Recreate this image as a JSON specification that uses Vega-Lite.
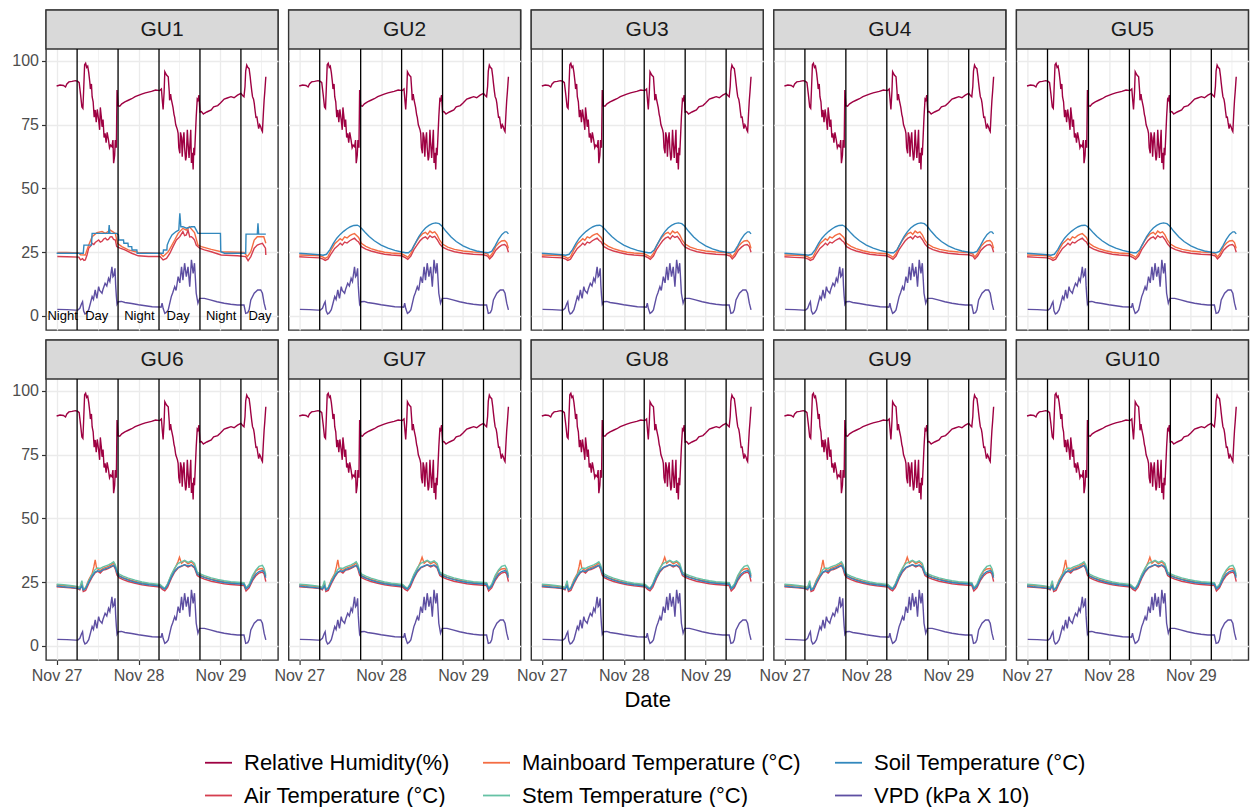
{
"$schema": "https://vega.github.io/schema/vega-lite/v6.json",
"padding": {"left": 11, "top": 8, "right": 0, "bottom": 0},
"spacing": 6,
"config": {
  "font": "Liberation Sans",
  "view": {"stroke": "#333333", "strokeWidth": 1.4},
  "axis": {"labelFont": "Liberation Sans", "titleFont": "Liberation Sans"},
  "text": {"font": "Liberation Sans"},
  "legend": {"orient": "none", "legendX": 158, "legendY": 738, "columns": 3, "columnPadding": 29, "rowPadding": 7, "symbolType": "stroke", "symbolSize": 729, "symbolStrokeWidth": 1.8, "labelFontSize": 22, "labelFont": "Liberation Sans", "labelColor": "#000000", "labelOffset": 11, "labelLimit": 400}
},
"resolve": {"scale": {"color": "shared"}, "legend": {"color": "shared"}},
"datasets": {
"names": [{"s":"R","name":"Relative Humidity(%)"},{"s":"A","name":"Air Temperature (°C)"},{"s":"M","name":"Mainboard Temperature (°C)"},{"s":"S","name":"Stem Temperature (°C)"},{"s":"O","name":"Soil Temperature (°C)"},{"s":"V","name":"VPD (kPa X 10)"}],
"vl": [{"t":"2023-11-27T06:00"},{"t":"2023-11-27T18:00"},{"t":"2023-11-28T06:00"},{"t":"2023-11-28T18:00"},{"t":"2023-11-29T06:00"}],
"dn": [{"t":"2023-11-27T01:45","lab":"Night"},{"t":"2023-11-27T11:45","lab":"Day"},{"t":"2023-11-28T00:15","lab":"Night"},{"t":"2023-11-28T11:36","lab":"Day"},{"t":"2023-11-29T00:12","lab":"Night"},{"t":"2023-11-29T11:36","lab":"Day"}],
"wx": [
{"t":"2023-11-27T00:00","s":"R","y":90.2},{"t":"2023-11-27T01:00","s":"R","y":90.6},{"t":"2023-11-27T02:00","s":"R","y":90.4},{"t":"2023-11-27T02:36","s":"R","y":89.8},{"t":"2023-11-27T03:00","s":"R","y":91.0},{"t":"2023-11-27T03:36","s":"R","y":91.8},{"t":"2023-11-27T04:30","s":"R","y":92.0},{"t":"2023-11-27T05:30","s":"R","y":92.3},{"t":"2023-11-27T06:12","s":"R","y":92.0},{"t":"2023-11-27T06:36","s":"R","y":91.5},{"t":"2023-11-27T07:00","s":"R","y":87},{"t":"2023-11-27T07:24","s":"R","y":82},{"t":"2023-11-27T07:42","s":"R","y":81.4},{"t":"2023-11-27T07:54","s":"R","y":88},{"t":"2023-11-27T08:12","s":"R","y":98.5},{"t":"2023-11-27T08:30","s":"R","y":99.1},{"t":"2023-11-27T08:48","s":"R","y":97.5},{"t":"2023-11-27T09:06","s":"R","y":98.0},{"t":"2023-11-27T09:24","s":"R","y":95.5},{"t":"2023-11-27T09:42","s":"R","y":92},{"t":"2023-11-27T09:54","s":"R","y":89},{"t":"2023-11-27T10:12","s":"R","y":91},{"t":"2023-11-27T10:24","s":"R","y":86},{"t":"2023-11-27T10:42","s":"R","y":84},{"t":"2023-11-27T11:00","s":"R","y":78},{"t":"2023-11-27T11:18","s":"R","y":80.8},{"t":"2023-11-27T11:36","s":"R","y":76},{"t":"2023-11-27T11:54","s":"R","y":81},{"t":"2023-11-27T12:18","s":"R","y":76.9},{"t":"2023-11-27T12:36","s":"R","y":73},{"t":"2023-11-27T12:48","s":"R","y":81.8},{"t":"2023-11-27T13:06","s":"R","y":78},{"t":"2023-11-27T13:18","s":"R","y":74.2},{"t":"2023-11-27T13:36","s":"R","y":77},{"t":"2023-11-27T13:54","s":"R","y":70},{"t":"2023-11-27T14:12","s":"R","y":71.6},{"t":"2023-11-27T14:30","s":"R","y":68},{"t":"2023-11-27T14:48","s":"R","y":72},{"t":"2023-11-27T15:12","s":"R","y":69},{"t":"2023-11-27T15:30","s":"R","y":66},{"t":"2023-11-27T15:48","s":"R","y":67},{"t":"2023-11-27T16:12","s":"R","y":66.4},{"t":"2023-11-27T16:30","s":"R","y":69},{"t":"2023-11-27T16:42","s":"R","y":59.9},{"t":"2023-11-27T17:00","s":"R","y":63},{"t":"2023-11-27T17:12","s":"R","y":69},{"t":"2023-11-27T17:30","s":"R","y":66},{"t":"2023-11-27T17:42","s":"R","y":88.6},{"t":"2023-11-27T18:00","s":"R","y":82.5},{"t":"2023-11-27T18:30","s":"R","y":82.3},{"t":"2023-11-27T19:06","s":"R","y":83.2},{"t":"2023-11-27T20:00","s":"R","y":84},{"t":"2023-11-27T21:00","s":"R","y":84.6},{"t":"2023-11-27T22:00","s":"R","y":85.2},{"t":"2023-11-27T23:00","s":"R","y":86},{"t":"2023-11-28T00:54","s":"R","y":87},{"t":"2023-11-28T02:00","s":"R","y":87.5},{"t":"2023-11-28T03:48","s":"R","y":88.1},{"t":"2023-11-28T05:00","s":"R","y":88.6},{"t":"2023-11-28T06:12","s":"R","y":88.4},{"t":"2023-11-28T06:42","s":"R","y":89},{"t":"2023-11-28T07:00","s":"R","y":84},{"t":"2023-11-28T07:12","s":"R","y":81},{"t":"2023-11-28T07:30","s":"R","y":88},{"t":"2023-11-28T07:42","s":"R","y":95.8},{"t":"2023-11-28T08:12","s":"R","y":94.5},{"t":"2023-11-28T08:42","s":"R","y":93.8},{"t":"2023-11-28T09:00","s":"R","y":88},{"t":"2023-11-28T09:06","s":"R","y":84.6},{"t":"2023-11-28T09:24","s":"R","y":87},{"t":"2023-11-28T09:36","s":"R","y":85},{"t":"2023-11-28T10:06","s":"R","y":81.8},{"t":"2023-11-28T10:24","s":"R","y":79},{"t":"2023-11-28T10:36","s":"R","y":77.9},{"t":"2023-11-28T10:54","s":"R","y":75},{"t":"2023-11-28T11:06","s":"R","y":74.2},{"t":"2023-11-28T11:24","s":"R","y":73},{"t":"2023-11-28T11:36","s":"R","y":71.6},{"t":"2023-11-28T11:48","s":"R","y":66},{"t":"2023-11-28T12:06","s":"R","y":63.8},{"t":"2023-11-28T12:18","s":"R","y":72},{"t":"2023-11-28T12:36","s":"R","y":70},{"t":"2023-11-28T12:48","s":"R","y":62.5},{"t":"2023-11-28T13:00","s":"R","y":68},{"t":"2023-11-28T13:18","s":"R","y":72},{"t":"2023-11-28T13:30","s":"R","y":66},{"t":"2023-11-28T13:48","s":"R","y":61},{"t":"2023-11-28T14:00","s":"R","y":62.5},{"t":"2023-11-28T14:18","s":"R","y":73},{"t":"2023-11-28T14:30","s":"R","y":68},{"t":"2023-11-28T14:48","s":"R","y":62},{"t":"2023-11-28T15:00","s":"R","y":66},{"t":"2023-11-28T15:18","s":"R","y":73},{"t":"2023-11-28T15:30","s":"R","y":60},{"t":"2023-11-28T15:48","s":"R","y":64},{"t":"2023-11-28T16:00","s":"R","y":57.5},{"t":"2023-11-28T16:12","s":"R","y":66},{"t":"2023-11-28T16:24","s":"R","y":63},{"t":"2023-11-28T16:42","s":"R","y":72},{"t":"2023-11-28T16:54","s":"R","y":78},{"t":"2023-11-28T17:12","s":"R","y":85},{"t":"2023-11-28T17:24","s":"R","y":84.6},{"t":"2023-11-28T17:42","s":"R","y":86.6},{"t":"2023-11-28T18:00","s":"R","y":80},{"t":"2023-11-28T18:24","s":"R","y":80.2},{"t":"2023-11-28T19:00","s":"R","y":79.2},{"t":"2023-11-28T19:18","s":"R","y":79.5},{"t":"2023-11-28T20:00","s":"R","y":80},{"t":"2023-11-28T21:18","s":"R","y":80.8},{"t":"2023-11-28T22:00","s":"R","y":82},{"t":"2023-11-28T23:12","s":"R","y":82.5},{"t":"2023-11-29T00:00","s":"R","y":83.5},{"t":"2023-11-29T01:06","s":"R","y":85.1},{"t":"2023-11-29T02:00","s":"R","y":85.5},{"t":"2023-11-29T03:06","s":"R","y":86},{"t":"2023-11-29T04:00","s":"R","y":85.6},{"t":"2023-11-29T05:00","s":"R","y":86.6},{"t":"2023-11-29T06:00","s":"R","y":87.3},{"t":"2023-11-29T06:30","s":"R","y":86.5},{"t":"2023-11-29T06:54","s":"R","y":86},{"t":"2023-11-29T07:12","s":"R","y":90},{"t":"2023-11-29T07:24","s":"R","y":96},{"t":"2023-11-29T07:42","s":"R","y":98.4},{"t":"2023-11-29T08:00","s":"R","y":97.5},{"t":"2023-11-29T08:24","s":"R","y":97},{"t":"2023-11-29T08:42","s":"R","y":94},{"t":"2023-11-29T08:54","s":"R","y":91.4},{"t":"2023-11-29T09:12","s":"R","y":88},{"t":"2023-11-29T09:24","s":"R","y":86},{"t":"2023-11-29T09:42","s":"R","y":85},{"t":"2023-11-29T09:54","s":"R","y":83.5},{"t":"2023-11-29T10:12","s":"R","y":80},{"t":"2023-11-29T10:24","s":"R","y":77.9},{"t":"2023-11-29T10:42","s":"R","y":78},{"t":"2023-11-29T10:54","s":"R","y":76},{"t":"2023-11-29T11:12","s":"R","y":73.5},{"t":"2023-11-29T11:30","s":"R","y":75},{"t":"2023-11-29T11:48","s":"R","y":74.2},{"t":"2023-11-29T12:06","s":"R","y":72.8},{"t":"2023-11-29T12:18","s":"R","y":72.3},{"t":"2023-11-29T12:36","s":"R","y":80},{"t":"2023-11-29T12:48","s":"R","y":84.6},{"t":"2023-11-29T13:00","s":"R","y":88},{"t":"2023-11-29T13:18","s":"R","y":93.8},
{"t":"2023-11-27T00:12","s":"V","y":2.6},{"t":"2023-11-27T03:00","s":"V","y":2.5},{"t":"2023-11-27T05:30","s":"V","y":2.3},{"t":"2023-11-27T06:12","s":"V","y":2.3},{"t":"2023-11-27T06:48","s":"V","y":3.0},{"t":"2023-11-27T07:18","s":"V","y":4.8},{"t":"2023-11-27T07:36","s":"V","y":5.6},{"t":"2023-11-27T07:54","s":"V","y":2.0},{"t":"2023-11-27T08:18","s":"V","y":0.8},{"t":"2023-11-27T08:48","s":"V","y":1.2},{"t":"2023-11-27T09:24","s":"V","y":2.5},{"t":"2023-11-27T09:54","s":"V","y":5.0},{"t":"2023-11-27T10:24","s":"V","y":7.6},{"t":"2023-11-27T10:48","s":"V","y":6.5},{"t":"2023-11-27T11:18","s":"V","y":10.2},{"t":"2023-11-27T11:36","s":"V","y":8.0},{"t":"2023-11-27T11:48","s":"V","y":6.9},{"t":"2023-11-27T12:18","s":"V","y":11.5},{"t":"2023-11-27T12:36","s":"V","y":10.0},{"t":"2023-11-27T13:18","s":"V","y":8.9},{"t":"2023-11-27T13:36","s":"V","y":10.5},{"t":"2023-11-27T14:12","s":"V","y":12.8},{"t":"2023-11-27T14:42","s":"V","y":11.8},{"t":"2023-11-27T15:12","s":"V","y":14.8},{"t":"2023-11-27T15:36","s":"V","y":13.5},{"t":"2023-11-27T16:12","s":"V","y":19.3},{"t":"2023-11-27T16:30","s":"V","y":15.4},{"t":"2023-11-27T16:48","s":"V","y":16.0},{"t":"2023-11-27T17:06","s":"V","y":18.7},{"t":"2023-11-27T17:18","s":"V","y":12.0},{"t":"2023-11-27T17:30","s":"V","y":7.8},{"t":"2023-11-27T17:42","s":"V","y":4.6},{"t":"2023-11-27T18:06","s":"V","y":5.6},{"t":"2023-11-27T19:00","s":"V","y":5.7},{"t":"2023-11-27T20:00","s":"V","y":5.3},{"t":"2023-11-27T22:00","s":"V","y":4.9},{"t":"2023-11-28T00:00","s":"V","y":4.4},{"t":"2023-11-28T02:00","s":"V","y":4.0},{"t":"2023-11-28T04:00","s":"V","y":3.6},{"t":"2023-11-28T06:12","s":"V","y":3.5},{"t":"2023-11-28T06:36","s":"V","y":3.4},{"t":"2023-11-28T06:54","s":"V","y":5.0},{"t":"2023-11-28T07:12","s":"V","y":3.0},{"t":"2023-11-28T07:42","s":"V","y":1.0},{"t":"2023-11-28T08:12","s":"V","y":1.5},{"t":"2023-11-28T08:42","s":"V","y":2.4},{"t":"2023-11-28T09:36","s":"V","y":7.6},{"t":"2023-11-28T10:00","s":"V","y":9.0},{"t":"2023-11-28T10:36","s":"V","y":11.5},{"t":"2023-11-28T11:00","s":"V","y":10.0},{"t":"2023-11-28T11:36","s":"V","y":15.4},{"t":"2023-11-28T12:06","s":"V","y":13.0},{"t":"2023-11-28T12:36","s":"V","y":19.3},{"t":"2023-11-28T13:00","s":"V","y":14.0},{"t":"2023-11-28T13:30","s":"V","y":20.7},{"t":"2023-11-28T14:00","s":"V","y":15.4},{"t":"2023-11-28T14:30","s":"V","y":19.3},{"t":"2023-11-28T15:00","s":"V","y":11.5},{"t":"2023-11-28T15:30","s":"V","y":22.0},{"t":"2023-11-28T16:00","s":"V","y":16.7},{"t":"2023-11-28T16:24","s":"V","y":20.7},{"t":"2023-11-28T16:54","s":"V","y":8.9},{"t":"2023-11-28T17:24","s":"V","y":5.0},{"t":"2023-11-28T17:54","s":"V","y":6.9},{"t":"2023-11-28T19:18","s":"V","y":6.9},{"t":"2023-11-28T21:00","s":"V","y":6.3},{"t":"2023-11-28T23:00","s":"V","y":5.6},{"t":"2023-11-29T01:06","s":"V","y":5.0},{"t":"2023-11-29T03:00","s":"V","y":4.6},{"t":"2023-11-29T05:00","s":"V","y":4.3},{"t":"2023-11-29T06:54","s":"V","y":4.3},{"t":"2023-11-29T07:24","s":"V","y":1.0},{"t":"2023-11-29T08:00","s":"V","y":1.3},{"t":"2023-11-29T08:24","s":"V","y":2.4},{"t":"2023-11-29T08:54","s":"V","y":6.3},{"t":"2023-11-29T09:54","s":"V","y":8.9},{"t":"2023-11-29T10:54","s":"V","y":10.2},{"t":"2023-11-29T11:48","s":"V","y":10.2},{"t":"2023-11-29T12:18","s":"V","y":8.9},{"t":"2023-11-29T12:48","s":"V","y":5.0},{"t":"2023-11-29T13:18","s":"V","y":2.4}
],
"tA": [
{"t":"2023-11-27T00:12","s":"A","y":23.3},{"t":"2023-11-27T03:00","s":"A","y":23.2},{"t":"2023-11-27T06:30","s":"A","y":23.1},{"t":"2023-11-27T07:00","s":"A","y":22.0},{"t":"2023-11-27T07:36","s":"A","y":22.5},{"t":"2023-11-27T08:00","s":"A","y":21.8},{"t":"2023-11-27T08:24","s":"A","y":22.0},{"t":"2023-11-27T08:54","s":"A","y":23.9},{"t":"2023-11-27T09:24","s":"A","y":26.6},{"t":"2023-11-27T10:00","s":"A","y":27.5},{"t":"2023-11-27T10:24","s":"A","y":28.5},{"t":"2023-11-27T10:54","s":"A","y":28.0},{"t":"2023-11-27T11:18","s":"A","y":28.8},{"t":"2023-11-27T11:48","s":"A","y":29.3},{"t":"2023-11-27T12:18","s":"A","y":29.8},{"t":"2023-11-27T12:48","s":"A","y":29.0},{"t":"2023-11-27T13:18","s":"A","y":29.3},{"t":"2023-11-27T13:48","s":"A","y":30.2},{"t":"2023-11-27T14:18","s":"A","y":30.5},{"t":"2023-11-27T14:48","s":"A","y":29.8},{"t":"2023-11-27T15:12","s":"A","y":30.0},{"t":"2023-11-27T15:42","s":"A","y":31.0},{"t":"2023-11-27T16:12","s":"A","y":31.1},{"t":"2023-11-27T16:42","s":"A","y":30.0},{"t":"2023-11-27T17:12","s":"A","y":29.8},{"t":"2023-11-27T17:36","s":"A","y":27.2},{"t":"2023-11-27T18:36","s":"A","y":26.6},{"t":"2023-11-27T20:00","s":"A","y":25.9},{"t":"2023-11-27T22:00","s":"A","y":24.6},{"t":"2023-11-27T23:54","s":"A","y":23.6},{"t":"2023-11-28T02:54","s":"A","y":23.3},{"t":"2023-11-28T06:18","s":"A","y":23.3},{"t":"2023-11-28T07:12","s":"A","y":22.0},{"t":"2023-11-28T08:12","s":"A","y":22.6},{"t":"2023-11-28T09:12","s":"A","y":24.6},{"t":"2023-11-28T10:06","s":"A","y":27.2},{"t":"2023-11-28T11:06","s":"A","y":29.8},{"t":"2023-11-28T12:06","s":"A","y":31.1},{"t":"2023-11-28T13:00","s":"A","y":33.1},{"t":"2023-11-28T13:30","s":"A","y":31.5},{"t":"2023-11-28T14:00","s":"A","y":31.8},{"t":"2023-11-28T14:30","s":"A","y":33.7},{"t":"2023-11-28T15:00","s":"A","y":31.0},{"t":"2023-11-28T15:30","s":"A","y":31.1},{"t":"2023-11-28T16:00","s":"A","y":30.5},{"t":"2023-11-28T16:24","s":"A","y":29.8},{"t":"2023-11-28T16:54","s":"A","y":27.8},{"t":"2023-11-28T17:54","s":"A","y":26.6},{"t":"2023-11-28T19:18","s":"A","y":25.9},{"t":"2023-11-28T21:18","s":"A","y":25.2},{"t":"2023-11-29T00:12","s":"A","y":23.9},{"t":"2023-11-29T05:00","s":"A","y":23.6},{"t":"2023-11-29T07:24","s":"A","y":23.3},{"t":"2023-11-29T08:06","s":"A","y":21.7},{"t":"2023-11-29T08:54","s":"A","y":23.3},{"t":"2023-11-29T09:54","s":"A","y":26.6},{"t":"2023-11-29T10:48","s":"A","y":27.8},{"t":"2023-11-29T11:30","s":"A","y":28.2},{"t":"2023-11-29T12:18","s":"A","y":28.5},{"t":"2023-11-29T13:12","s":"A","y":26.6},{"t":"2023-11-29T13:18","s":"A","y":23.9},
{"t":"2023-11-27T00:12","s":"M","y":24.9},{"t":"2023-11-27T03:00","s":"M","y":24.9},{"t":"2023-11-27T06:30","s":"M","y":24.7},{"t":"2023-11-27T07:00","s":"M","y":24.0},{"t":"2023-11-27T08:24","s":"M","y":23.9},{"t":"2023-11-27T09:24","s":"M","y":27.8},{"t":"2023-11-27T10:24","s":"M","y":31.1},{"t":"2023-11-27T11:48","s":"M","y":32.7},{"t":"2023-11-27T13:18","s":"M","y":33.1},{"t":"2023-11-27T14:18","s":"M","y":32.4},{"t":"2023-11-27T15:42","s":"M","y":33.7},{"t":"2023-11-27T16:30","s":"M","y":33.0},{"t":"2023-11-27T17:12","s":"M","y":32.4},{"t":"2023-11-27T17:48","s":"M","y":28.5},{"t":"2023-11-27T19:06","s":"M","y":27.2},{"t":"2023-11-27T21:00","s":"M","y":25.9},{"t":"2023-11-27T23:54","s":"M","y":24.9},{"t":"2023-11-28T06:18","s":"M","y":24.6},{"t":"2023-11-28T07:12","s":"M","y":23.3},{"t":"2023-11-28T08:42","s":"M","y":25.2},{"t":"2023-11-28T10:36","s":"M","y":29.8},{"t":"2023-11-28T11:36","s":"M","y":32.4},{"t":"2023-11-28T13:00","s":"M","y":34.4},{"t":"2023-11-28T14:00","s":"M","y":33.7},{"t":"2023-11-28T14:54","s":"M","y":35.0},{"t":"2023-11-28T16:24","s":"M","y":32.7},{"t":"2023-11-28T17:24","s":"M","y":27.8},{"t":"2023-11-28T18:24","s":"M","y":27.2},{"t":"2023-11-28T21:18","s":"M","y":26.1},{"t":"2023-11-29T00:12","s":"M","y":25.2},{"t":"2023-11-29T06:54","s":"M","y":24.9},{"t":"2023-11-29T07:54","s":"M","y":23.3},{"t":"2023-11-29T08:54","s":"M","y":25.2},{"t":"2023-11-29T09:54","s":"M","y":29.8},{"t":"2023-11-29T10:48","s":"M","y":31.1},{"t":"2023-11-29T12:42","s":"M","y":31.1},{"t":"2023-11-29T13:18","s":"M","y":28.5},
{"t":"2023-11-27T00:00","s":"O","y":24.6},{"t":"2023-11-27T07:48","s":"O","y":24.6},{"t":"2023-11-27T08:00","s":"O","y":27.8},{"t":"2023-11-27T10:12","s":"O","y":27.8},{"t":"2023-11-27T10:24","s":"O","y":32.4},{"t":"2023-11-27T15:12","s":"O","y":32.4},{"t":"2023-11-27T15:24","s":"O","y":35.7},{"t":"2023-11-27T15:36","s":"O","y":32.4},{"t":"2023-11-27T17:36","s":"O","y":32.4},{"t":"2023-11-27T18:06","s":"O","y":31.8},{"t":"2023-11-27T18:12","s":"O","y":29.8},{"t":"2023-11-27T19:36","s":"O","y":29.8},{"t":"2023-11-27T19:42","s":"O","y":28.5},{"t":"2023-11-27T20:54","s":"O","y":28.5},{"t":"2023-11-27T21:00","s":"O","y":27.2},{"t":"2023-11-27T22:00","s":"O","y":27.2},{"t":"2023-11-27T22:06","s":"O","y":25.9},{"t":"2023-11-27T23:30","s":"O","y":25.9},{"t":"2023-11-27T23:36","s":"O","y":24.6},{"t":"2023-11-28T07:12","s":"O","y":24.6},{"t":"2023-11-28T07:18","s":"O","y":25.9},{"t":"2023-11-28T08:18","s":"O","y":25.9},{"t":"2023-11-28T08:24","s":"O","y":27.8},{"t":"2023-11-28T09:00","s":"O","y":29.8},{"t":"2023-11-28T09:48","s":"O","y":31.8},{"t":"2023-11-28T11:00","s":"O","y":33.1},{"t":"2023-11-28T11:48","s":"O","y":33.7},{"t":"2023-11-28T12:06","s":"O","y":40.3},{"t":"2023-11-28T12:24","s":"O","y":35.0},{"t":"2023-11-28T13:00","s":"O","y":35.0},{"t":"2023-11-28T14:00","s":"O","y":34.4},{"t":"2023-11-28T15:30","s":"O","y":35.0},{"t":"2023-11-28T16:24","s":"O","y":35.0},{"t":"2023-11-28T17:00","s":"O","y":33.5},{"t":"2023-11-28T17:24","s":"O","y":32.4},{"t":"2023-11-29T00:00","s":"O","y":32.4},{"t":"2023-11-29T00:06","s":"O","y":25.2},{"t":"2023-11-29T01:12","s":"O","y":24.6},{"t":"2023-11-29T07:24","s":"O","y":24.6},{"t":"2023-11-29T07:30","s":"O","y":32.1},{"t":"2023-11-29T10:48","s":"O","y":32.1},{"t":"2023-11-29T11:00","s":"O","y":36.3},{"t":"2023-11-29T11:12","s":"O","y":32.1},{"t":"2023-11-29T13:18","s":"O","y":32.1}
],
"tB": [
{"t":"2023-11-27T00:00","s":"A","y":23.2},{"t":"2023-11-27T03:00","s":"A","y":23.0},{"t":"2023-11-27T06:00","s":"A","y":22.8},{"t":"2023-11-27T07:00","s":"A","y":22.3},{"t":"2023-11-27T07:36","s":"A","y":21.8},{"t":"2023-11-27T08:24","s":"A","y":22.3},{"t":"2023-11-27T09:24","s":"A","y":24.5},{"t":"2023-11-27T10:24","s":"A","y":26.5},{"t":"2023-11-27T11:18","s":"A","y":27.5},{"t":"2023-11-27T12:00","s":"A","y":28.5},{"t":"2023-11-27T12:36","s":"A","y":27.8},{"t":"2023-11-27T13:18","s":"A","y":29.0},{"t":"2023-11-27T14:00","s":"A","y":28.6},{"t":"2023-11-27T14:48","s":"A","y":29.5},{"t":"2023-11-27T15:30","s":"A","y":30.0},{"t":"2023-11-27T16:12","s":"A","y":30.5},{"t":"2023-11-27T16:48","s":"A","y":29.6},{"t":"2023-11-27T17:24","s":"A","y":29.0},{"t":"2023-11-27T18:12","s":"A","y":27.2},{"t":"2023-11-27T19:30","s":"A","y":26.2},{"t":"2023-11-27T21:00","s":"A","y":25.5},{"t":"2023-11-27T23:00","s":"A","y":24.8},{"t":"2023-11-28T01:00","s":"A","y":24.2},{"t":"2023-11-28T03:00","s":"A","y":23.9},{"t":"2023-11-28T06:00","s":"A","y":23.6},{"t":"2023-11-28T07:12","s":"A","y":22.8},{"t":"2023-11-28T07:48","s":"A","y":22.2},{"t":"2023-11-28T08:42","s":"A","y":23.5},{"t":"2023-11-28T09:36","s":"A","y":26.0},{"t":"2023-11-28T10:36","s":"A","y":28.0},{"t":"2023-11-28T11:24","s":"A","y":29.5},{"t":"2023-11-28T12:12","s":"A","y":30.5},{"t":"2023-11-28T13:00","s":"A","y":31.0},{"t":"2023-11-28T13:36","s":"A","y":30.2},{"t":"2023-11-28T14:18","s":"A","y":31.5},{"t":"2023-11-28T15:00","s":"A","y":30.8},{"t":"2023-11-28T15:42","s":"A","y":31.2},{"t":"2023-11-28T16:24","s":"A","y":30.0},{"t":"2023-11-28T17:12","s":"A","y":28.2},{"t":"2023-11-28T18:00","s":"A","y":27.0},{"t":"2023-11-28T19:30","s":"A","y":26.0},{"t":"2023-11-28T21:30","s":"A","y":25.2},{"t":"2023-11-29T00:00","s":"A","y":24.6},{"t":"2023-11-29T03:00","s":"A","y":24.2},{"t":"2023-11-29T06:00","s":"A","y":24.0},{"t":"2023-11-29T07:12","s":"A","y":23.5},{"t":"2023-11-29T07:48","s":"A","y":22.4},{"t":"2023-11-29T08:36","s":"A","y":23.5},{"t":"2023-11-29T09:36","s":"A","y":25.8},{"t":"2023-11-29T10:30","s":"A","y":27.0},{"t":"2023-11-29T11:18","s":"A","y":27.8},{"t":"2023-11-29T12:12","s":"A","y":28.0},{"t":"2023-11-29T12:48","s":"A","y":27.2},{"t":"2023-11-29T13:18","s":"A","y":25.0},
{"t":"2023-11-27T00:00","s":"M","y":23.9},{"t":"2023-11-27T03:00","s":"M","y":23.8},{"t":"2023-11-27T06:00","s":"M","y":23.6},{"t":"2023-11-27T07:00","s":"M","y":23.1},{"t":"2023-11-27T07:36","s":"M","y":22.6},{"t":"2023-11-27T08:24","s":"M","y":23.2},{"t":"2023-11-27T09:24","s":"M","y":26.0},{"t":"2023-11-27T10:24","s":"M","y":28.3},{"t":"2023-11-27T11:18","s":"M","y":29.4},{"t":"2023-11-27T12:00","s":"M","y":30.3},{"t":"2023-11-27T12:36","s":"M","y":29.7},{"t":"2023-11-27T13:18","s":"M","y":31.0},{"t":"2023-11-27T14:00","s":"M","y":30.6},{"t":"2023-11-27T14:48","s":"M","y":31.5},{"t":"2023-11-27T15:30","s":"M","y":32.0},{"t":"2023-11-27T16:12","s":"M","y":32.3},{"t":"2023-11-27T16:48","s":"M","y":31.6},{"t":"2023-11-27T17:24","s":"M","y":30.8},{"t":"2023-11-27T18:12","s":"M","y":28.5},{"t":"2023-11-27T19:30","s":"M","y":27.3},{"t":"2023-11-27T21:00","s":"M","y":26.4},{"t":"2023-11-27T23:00","s":"M","y":25.6},{"t":"2023-11-28T01:00","s":"M","y":25.0},{"t":"2023-11-28T03:00","s":"M","y":24.7},{"t":"2023-11-28T06:00","s":"M","y":24.4},{"t":"2023-11-28T07:12","s":"M","y":23.6},{"t":"2023-11-28T07:48","s":"M","y":23.0},{"t":"2023-11-28T08:42","s":"M","y":24.5},{"t":"2023-11-28T09:36","s":"M","y":27.5},{"t":"2023-11-28T10:36","s":"M","y":29.8},{"t":"2023-11-28T11:24","s":"M","y":31.2},{"t":"2023-11-28T12:12","s":"M","y":32.3},{"t":"2023-11-28T13:00","s":"M","y":32.8},{"t":"2023-11-28T13:36","s":"M","y":32.0},{"t":"2023-11-28T14:18","s":"M","y":33.3},{"t":"2023-11-28T15:00","s":"M","y":32.6},{"t":"2023-11-28T15:42","s":"M","y":33.0},{"t":"2023-11-28T16:24","s":"M","y":31.8},{"t":"2023-11-28T17:12","s":"M","y":29.6},{"t":"2023-11-28T18:00","s":"M","y":28.2},{"t":"2023-11-28T19:30","s":"M","y":27.0},{"t":"2023-11-28T21:30","s":"M","y":26.1},{"t":"2023-11-29T00:00","s":"M","y":25.5},{"t":"2023-11-29T03:00","s":"M","y":25.1},{"t":"2023-11-29T06:00","s":"M","y":24.9},{"t":"2023-11-29T07:12","s":"M","y":24.3},{"t":"2023-11-29T07:48","s":"M","y":23.2},{"t":"2023-11-29T08:36","s":"M","y":24.5},{"t":"2023-11-29T09:36","s":"M","y":27.3},{"t":"2023-11-29T10:30","s":"M","y":28.6},{"t":"2023-11-29T11:18","s":"M","y":29.4},{"t":"2023-11-29T12:12","s":"M","y":29.6},{"t":"2023-11-29T12:48","s":"M","y":28.8},{"t":"2023-11-29T13:18","s":"M","y":26.5},
{"t":"2023-11-27T00:00","s":"O","y":24.6},{"t":"2023-11-27T03:00","s":"O","y":24.3},{"t":"2023-11-27T06:00","s":"O","y":24.0},{"t":"2023-11-27T07:00","s":"O","y":23.8},{"t":"2023-11-27T08:00","s":"O","y":24.2},{"t":"2023-11-27T09:00","s":"O","y":26.0},{"t":"2023-11-27T10:00","s":"O","y":28.5},{"t":"2023-11-27T11:00","s":"O","y":30.5},{"t":"2023-11-27T12:00","s":"O","y":32.0},{"t":"2023-11-27T13:00","s":"O","y":33.2},{"t":"2023-11-27T14:00","s":"O","y":34.2},{"t":"2023-11-27T15:00","s":"O","y":35.0},{"t":"2023-11-27T16:00","s":"O","y":35.5},{"t":"2023-11-27T17:00","s":"O","y":35.6},{"t":"2023-11-27T17:36","s":"O","y":35.2},{"t":"2023-11-27T18:30","s":"O","y":34.0},{"t":"2023-11-27T19:30","s":"O","y":32.5},{"t":"2023-11-27T20:30","s":"O","y":31.2},{"t":"2023-11-27T22:00","s":"O","y":29.5},{"t":"2023-11-28T00:00","s":"O","y":27.8},{"t":"2023-11-28T02:00","s":"O","y":26.6},{"t":"2023-11-28T04:00","s":"O","y":25.7},{"t":"2023-11-28T06:00","s":"O","y":25.1},{"t":"2023-11-28T07:12","s":"O","y":24.8},{"t":"2023-11-28T08:00","s":"O","y":24.8},{"t":"2023-11-28T09:00","s":"O","y":26.0},{"t":"2023-11-28T10:00","s":"O","y":28.5},{"t":"2023-11-28T11:00","s":"O","y":31.0},{"t":"2023-11-28T12:00","s":"O","y":33.0},{"t":"2023-11-28T13:00","s":"O","y":34.5},{"t":"2023-11-28T14:00","s":"O","y":35.5},{"t":"2023-11-28T15:00","s":"O","y":36.2},{"t":"2023-11-28T16:00","s":"O","y":36.5},{"t":"2023-11-28T17:00","s":"O","y":36.2},{"t":"2023-11-28T17:48","s":"O","y":35.3},{"t":"2023-11-28T19:00","s":"O","y":33.2},{"t":"2023-11-28T20:30","s":"O","y":31.0},{"t":"2023-11-28T22:00","s":"O","y":29.2},{"t":"2023-11-29T00:00","s":"O","y":27.5},{"t":"2023-11-29T02:00","s":"O","y":26.3},{"t":"2023-11-29T04:00","s":"O","y":25.5},{"t":"2023-11-29T06:00","s":"O","y":25.0},{"t":"2023-11-29T07:24","s":"O","y":24.8},{"t":"2023-11-29T08:24","s":"O","y":25.3},{"t":"2023-11-29T09:24","s":"O","y":27.5},{"t":"2023-11-29T10:24","s":"O","y":30.0},{"t":"2023-11-29T11:24","s":"O","y":32.0},{"t":"2023-11-29T12:18","s":"O","y":33.0},{"t":"2023-11-29T12:48","s":"O","y":33.0},{"t":"2023-11-29T13:18","s":"O","y":32.2}
],
"tC": [
{"t":"2023-11-27T00:00","s":"A","y":23.2},{"t":"2023-11-27T02:00","s":"A","y":23.0},{"t":"2023-11-27T04:00","s":"A","y":22.8},{"t":"2023-11-27T06:00","s":"A","y":22.5},{"t":"2023-11-27T06:48","s":"A","y":22.0},{"t":"2023-11-27T07:24","s":"A","y":24.0},{"t":"2023-11-27T07:48","s":"A","y":21.4},{"t":"2023-11-27T08:30","s":"A","y":21.8},{"t":"2023-11-27T09:24","s":"A","y":24.4},{"t":"2023-11-27T10:24","s":"A","y":27.0},{"t":"2023-11-27T11:18","s":"A","y":28.8},{"t":"2023-11-27T12:00","s":"A","y":29.3},{"t":"2023-11-27T12:48","s":"A","y":28.6},{"t":"2023-11-27T13:36","s":"A","y":29.8},{"t":"2023-11-27T14:24","s":"A","y":30.0},{"t":"2023-11-27T15:12","s":"A","y":30.4},{"t":"2023-11-27T16:00","s":"A","y":31.0},{"t":"2023-11-27T16:42","s":"A","y":31.6},{"t":"2023-11-27T17:12","s":"A","y":30.2},{"t":"2023-11-27T17:42","s":"A","y":27.8},{"t":"2023-11-27T18:18","s":"A","y":26.8},{"t":"2023-11-27T19:30","s":"A","y":26.0},{"t":"2023-11-27T21:00","s":"A","y":25.3},{"t":"2023-11-27T23:00","s":"A","y":24.6},{"t":"2023-11-28T01:00","s":"A","y":24.0},{"t":"2023-11-28T03:00","s":"A","y":23.6},{"t":"2023-11-28T05:00","s":"A","y":23.3},{"t":"2023-11-28T06:18","s":"A","y":23.1},{"t":"2023-11-28T07:00","s":"A","y":22.2},{"t":"2023-11-28T07:42","s":"A","y":21.6},{"t":"2023-11-28T08:30","s":"A","y":23.0},{"t":"2023-11-28T09:36","s":"A","y":26.5},{"t":"2023-11-28T10:36","s":"A","y":29.0},{"t":"2023-11-28T11:36","s":"A","y":30.6},{"t":"2023-11-28T12:36","s":"A","y":31.2},{"t":"2023-11-28T13:30","s":"A","y":31.8},{"t":"2023-11-28T14:30","s":"A","y":31.0},{"t":"2023-11-28T15:30","s":"A","y":31.6},{"t":"2023-11-28T16:24","s":"A","y":30.6},{"t":"2023-11-28T17:12","s":"A","y":27.6},{"t":"2023-11-28T17:54","s":"A","y":27.0},{"t":"2023-11-28T19:18","s":"A","y":26.2},{"t":"2023-11-28T21:18","s":"A","y":25.4},{"t":"2023-11-28T23:12","s":"A","y":24.9},{"t":"2023-11-29T01:06","s":"A","y":24.4},{"t":"2023-11-29T03:00","s":"A","y":24.1},{"t":"2023-11-29T05:00","s":"A","y":23.9},{"t":"2023-11-29T06:54","s":"A","y":23.7},{"t":"2023-11-29T07:30","s":"A","y":21.6},{"t":"2023-11-29T08:24","s":"A","y":22.8},{"t":"2023-11-29T09:24","s":"A","y":25.6},{"t":"2023-11-29T10:24","s":"A","y":27.6},{"t":"2023-11-29T11:18","s":"A","y":28.6},{"t":"2023-11-29T12:18","s":"A","y":29.0},{"t":"2023-11-29T12:48","s":"A","y":28.2},{"t":"2023-11-29T13:18","s":"A","y":25.2},
{"t":"2023-11-27T00:00","s":"M","y":23.9},{"t":"2023-11-27T02:00","s":"M","y":23.7},{"t":"2023-11-27T04:00","s":"M","y":23.5},{"t":"2023-11-27T06:00","s":"M","y":23.2},{"t":"2023-11-27T06:48","s":"M","y":22.8},{"t":"2023-11-27T07:24","s":"M","y":24.6},{"t":"2023-11-27T07:48","s":"M","y":22.2},{"t":"2023-11-27T08:30","s":"M","y":22.8},{"t":"2023-11-27T09:24","s":"M","y":26.0},{"t":"2023-11-27T10:24","s":"M","y":28.4},{"t":"2023-11-27T10:54","s":"M","y":31.0},{"t":"2023-11-27T11:18","s":"M","y":33.8},{"t":"2023-11-27T11:42","s":"M","y":30.5},{"t":"2023-11-27T12:00","s":"M","y":30.2},{"t":"2023-11-27T12:48","s":"M","y":29.6},{"t":"2023-11-27T13:36","s":"M","y":30.4},{"t":"2023-11-27T14:24","s":"M","y":30.8},{"t":"2023-11-27T15:12","s":"M","y":31.2},{"t":"2023-11-27T16:00","s":"M","y":31.8},{"t":"2023-11-27T16:42","s":"M","y":32.6},{"t":"2023-11-27T17:12","s":"M","y":31.2},{"t":"2023-11-27T17:42","s":"M","y":28.8},{"t":"2023-11-27T18:18","s":"M","y":27.6},{"t":"2023-11-27T19:30","s":"M","y":26.8},{"t":"2023-11-27T21:00","s":"M","y":26.1},{"t":"2023-11-27T23:00","s":"M","y":25.3},{"t":"2023-11-28T01:00","s":"M","y":24.7},{"t":"2023-11-28T03:00","s":"M","y":24.3},{"t":"2023-11-28T05:00","s":"M","y":24.0},{"t":"2023-11-28T06:18","s":"M","y":23.8},{"t":"2023-11-28T07:00","s":"M","y":23.0},{"t":"2023-11-28T07:42","s":"M","y":22.4},{"t":"2023-11-28T08:30","s":"M","y":24.2},{"t":"2023-11-28T09:36","s":"M","y":27.8},{"t":"2023-11-28T10:36","s":"M","y":30.2},{"t":"2023-11-28T11:36","s":"M","y":33.2},{"t":"2023-11-28T12:00","s":"M","y":34.8},{"t":"2023-11-28T12:36","s":"M","y":32.4},{"t":"2023-11-28T13:30","s":"M","y":33.4},{"t":"2023-11-28T14:30","s":"M","y":32.2},{"t":"2023-11-28T15:30","s":"M","y":33.0},{"t":"2023-11-28T16:24","s":"M","y":31.6},{"t":"2023-11-28T17:12","s":"M","y":28.4},{"t":"2023-11-28T17:54","s":"M","y":27.9},{"t":"2023-11-28T19:18","s":"M","y":27.0},{"t":"2023-11-28T21:18","s":"M","y":26.2},{"t":"2023-11-28T23:12","s":"M","y":25.7},{"t":"2023-11-29T01:06","s":"M","y":25.2},{"t":"2023-11-29T03:00","s":"M","y":24.9},{"t":"2023-11-29T05:00","s":"M","y":24.7},{"t":"2023-11-29T06:54","s":"M","y":24.5},{"t":"2023-11-29T07:30","s":"M","y":22.6},{"t":"2023-11-29T08:24","s":"M","y":23.8},{"t":"2023-11-29T09:24","s":"M","y":27.0},{"t":"2023-11-29T10:24","s":"M","y":29.4},{"t":"2023-11-29T11:18","s":"M","y":30.2},{"t":"2023-11-29T12:18","s":"M","y":30.4},{"t":"2023-11-29T12:48","s":"M","y":29.4},{"t":"2023-11-29T13:18","s":"M","y":27.4},
{"t":"2023-11-27T00:00","s":"S","y":24.2},{"t":"2023-11-27T02:00","s":"S","y":24.0},{"t":"2023-11-27T04:00","s":"S","y":23.7},{"t":"2023-11-27T06:00","s":"S","y":23.4},{"t":"2023-11-27T06:48","s":"S","y":23.0},{"t":"2023-11-27T07:24","s":"S","y":25.6},{"t":"2023-11-27T07:48","s":"S","y":22.4},{"t":"2023-11-27T08:30","s":"S","y":22.8},{"t":"2023-11-27T09:24","s":"S","y":25.6},{"t":"2023-11-27T10:24","s":"S","y":28.0},{"t":"2023-11-27T11:18","s":"S","y":30.0},{"t":"2023-11-27T12:00","s":"S","y":30.6},{"t":"2023-11-27T12:48","s":"S","y":30.4},{"t":"2023-11-27T13:36","s":"S","y":31.0},{"t":"2023-11-27T14:24","s":"S","y":31.4},{"t":"2023-11-27T15:12","s":"S","y":31.8},{"t":"2023-11-27T16:00","s":"S","y":32.4},{"t":"2023-11-27T16:42","s":"S","y":33.0},{"t":"2023-11-27T17:12","s":"S","y":31.8},{"t":"2023-11-27T17:42","s":"S","y":29.4},{"t":"2023-11-27T18:18","s":"S","y":28.2},{"t":"2023-11-27T19:30","s":"S","y":27.4},{"t":"2023-11-27T21:00","s":"S","y":26.6},{"t":"2023-11-27T23:00","s":"S","y":25.8},{"t":"2023-11-28T01:00","s":"S","y":25.1},{"t":"2023-11-28T03:00","s":"S","y":24.6},{"t":"2023-11-28T05:00","s":"S","y":24.3},{"t":"2023-11-28T06:18","s":"S","y":24.1},{"t":"2023-11-28T07:00","s":"S","y":23.3},{"t":"2023-11-28T07:42","s":"S","y":22.6},{"t":"2023-11-28T08:30","s":"S","y":24.4},{"t":"2023-11-28T09:36","s":"S","y":28.0},{"t":"2023-11-28T10:36","s":"S","y":30.6},{"t":"2023-11-28T11:36","s":"S","y":32.4},{"t":"2023-11-28T12:36","s":"S","y":33.0},{"t":"2023-11-28T13:30","s":"S","y":33.6},{"t":"2023-11-28T14:30","s":"S","y":32.8},{"t":"2023-11-28T15:30","s":"S","y":33.4},{"t":"2023-11-28T16:24","s":"S","y":32.4},{"t":"2023-11-28T17:12","s":"S","y":29.0},{"t":"2023-11-28T17:54","s":"S","y":28.4},{"t":"2023-11-28T19:18","s":"S","y":27.6},{"t":"2023-11-28T21:18","s":"S","y":26.7},{"t":"2023-11-28T23:12","s":"S","y":26.1},{"t":"2023-11-29T01:06","s":"S","y":25.6},{"t":"2023-11-29T03:00","s":"S","y":25.2},{"t":"2023-11-29T05:00","s":"S","y":25.0},{"t":"2023-11-29T06:54","s":"S","y":24.8},{"t":"2023-11-29T07:30","s":"S","y":22.8},{"t":"2023-11-29T08:24","s":"S","y":24.2},{"t":"2023-11-29T09:24","s":"S","y":27.6},{"t":"2023-11-29T10:24","s":"S","y":29.8},{"t":"2023-11-29T11:18","s":"S","y":31.2},{"t":"2023-11-29T12:18","s":"S","y":31.6},{"t":"2023-11-29T12:48","s":"S","y":30.4},{"t":"2023-11-29T13:18","s":"S","y":28.0},
{"t":"2023-11-27T00:00","s":"O","y":23.5},{"t":"2023-11-27T02:00","s":"O","y":23.2},{"t":"2023-11-27T04:00","s":"O","y":23.0},{"t":"2023-11-27T06:00","s":"O","y":22.7},{"t":"2023-11-27T06:48","s":"O","y":22.4},{"t":"2023-11-27T07:24","s":"O","y":23.6},{"t":"2023-11-27T07:48","s":"O","y":22.0},{"t":"2023-11-27T08:30","s":"O","y":22.5},{"t":"2023-11-27T09:24","s":"O","y":25.0},{"t":"2023-11-27T10:24","s":"O","y":27.4},{"t":"2023-11-27T11:18","s":"O","y":29.0},{"t":"2023-11-27T12:00","s":"O","y":29.5},{"t":"2023-11-27T12:48","s":"O","y":29.2},{"t":"2023-11-27T13:36","s":"O","y":29.9},{"t":"2023-11-27T14:24","s":"O","y":30.3},{"t":"2023-11-27T15:12","s":"O","y":30.7},{"t":"2023-11-27T16:00","s":"O","y":31.2},{"t":"2023-11-27T16:42","s":"O","y":31.6},{"t":"2023-11-27T17:12","s":"O","y":30.8},{"t":"2023-11-27T17:42","s":"O","y":28.6},{"t":"2023-11-27T18:18","s":"O","y":27.4},{"t":"2023-11-27T19:30","s":"O","y":26.6},{"t":"2023-11-27T21:00","s":"O","y":25.8},{"t":"2023-11-27T23:00","s":"O","y":25.0},{"t":"2023-11-28T01:00","s":"O","y":24.4},{"t":"2023-11-28T03:00","s":"O","y":24.0},{"t":"2023-11-28T05:00","s":"O","y":23.7},{"t":"2023-11-28T06:18","s":"O","y":23.5},{"t":"2023-11-28T07:00","s":"O","y":22.8},{"t":"2023-11-28T07:42","s":"O","y":22.3},{"t":"2023-11-28T08:30","s":"O","y":23.8},{"t":"2023-11-28T09:36","s":"O","y":27.0},{"t":"2023-11-28T10:36","s":"O","y":29.4},{"t":"2023-11-28T11:36","s":"O","y":30.8},{"t":"2023-11-28T12:36","s":"O","y":31.4},{"t":"2023-11-28T13:30","s":"O","y":31.9},{"t":"2023-11-28T14:30","s":"O","y":31.4},{"t":"2023-11-28T15:30","s":"O","y":31.8},{"t":"2023-11-28T16:24","s":"O","y":31.0},{"t":"2023-11-28T17:12","s":"O","y":28.2},{"t":"2023-11-28T17:54","s":"O","y":27.6},{"t":"2023-11-28T19:18","s":"O","y":26.8},{"t":"2023-11-28T21:18","s":"O","y":26.0},{"t":"2023-11-28T23:12","s":"O","y":25.4},{"t":"2023-11-29T01:06","s":"O","y":24.9},{"t":"2023-11-29T03:00","s":"O","y":24.6},{"t":"2023-11-29T05:00","s":"O","y":24.4},{"t":"2023-11-29T06:54","s":"O","y":24.2},{"t":"2023-11-29T07:30","s":"O","y":22.4},{"t":"2023-11-29T08:24","s":"O","y":23.4},{"t":"2023-11-29T09:24","s":"O","y":26.2},{"t":"2023-11-29T10:24","s":"O","y":28.2},{"t":"2023-11-29T11:18","s":"O","y":29.2},{"t":"2023-11-29T12:18","s":"O","y":29.6},{"t":"2023-11-29T12:48","s":"O","y":29.0},{"t":"2023-11-29T13:18","s":"O","y":26.8}
]
},
"vconcat": [
{"hconcat": [
{"width":232,"height":320,"data":{"values":[{"p":"GU1"}]},"layer":[
 {"data":{"name":"wx"},"transform":[{"lookup":"s","from":{"data":{"name":"names"},"key":"s","fields":["name"]}}],"mark":{"type":"line","strokeWidth":1.4},"encoding":{"x":{"field":"t","type":"temporal","scale":{"domain":[{"year":2023,"month":11,"date":26,"hours":20,"minutes":53},{"year":2023,"month":11,"date":29,"hours":16,"minutes":52}],"nice":false},"axis":{"values":[{"year":2023,"month":11,"date":27},{"year":2023,"month":11,"date":27,"hours":12},{"year":2023,"month":11,"date":28},{"year":2023,"month":11,"date":28,"hours":12},{"year":2023,"month":11,"date":29},{"year":2023,"month":11,"date":29,"hours":12}],"labels":false,"ticks":false,"domain":false,"title":null,"grid":true,"gridColor":"#EBEBEB","gridWidth":{"condition":{"test":"hours(datum.value)===0","value":1.3},"value":0.65}}},"y":{"field":"y","type":"quantitative","scale":{"domain":[-5.5,120],"nice":false,"zero":false},"axis":{"values":[0,12.5,25,37.5,50,62.5,75,87.5,100],"labelExpr":"datum.value%25===0?datum.label:''","labelFontSize":16,"labelColor":"#4D4D4D","labelPadding":3,"labelOverlap":false,"tickColor":"#333333","tickSize":4.5,"tickWidth":1.2,"tickOpacity":{"condition":{"test":"datum.value%25===0","value":1},"value":0},"domain":false,"title":null,"grid":true,"gridColor":"#EBEBEB","gridWidth":{"condition":{"test":"datum.value%25===0","value":1.3},"value":0.65}}},"color":{"field":"name","type":"nominal","scale":{"domain":["Relative Humidity(%)","Air Temperature (°C)","Mainboard Temperature (°C)","Stem Temperature (°C)","Soil Temperature (°C)","VPD (kPa X 10)"],"range":["#9E0142","#D53E4F","#F46D43","#66C2A5","#3288BD","#5E4FA2"]},"legend":{"title":null}}}},
 {"mark":{"type":"rect","fill":"#D9D9D9","stroke":"#333333","strokeWidth":1.4},"encoding":{"y":{"datum":104.7,"type":"quantitative","scale":{"domain":[-5.5,120],"nice":false,"zero":false}},"y2":{"datum":120}}},
 {"mark":{"type":"text","fontSize":21,"color":"#1A1A1A"},"encoding":{"y":{"datum":112.35,"type":"quantitative","scale":{"domain":[-5.5,120],"nice":false,"zero":false}},"text":{"field":"p"}}},
 {"data":{"name":"tA"},"transform":[{"lookup":"s","from":{"data":{"name":"names"},"key":"s","fields":["name"]}}],"mark":{"type":"line","strokeWidth":1.4},"encoding":{"x":{"field":"t","type":"temporal","title":null,"scale":{"domain":[{"year":2023,"month":11,"date":26,"hours":20,"minutes":53},{"year":2023,"month":11,"date":29,"hours":16,"minutes":52}],"nice":false}},"y":{"field":"y","type":"quantitative","title":null,"scale":{"domain":[-5.5,120],"nice":false,"zero":false}},"color":{"field":"name","type":"nominal","scale":{"domain":["Relative Humidity(%)","Air Temperature (°C)","Mainboard Temperature (°C)","Stem Temperature (°C)","Soil Temperature (°C)","VPD (kPa X 10)"],"range":["#9E0142","#D53E4F","#F46D43","#66C2A5","#3288BD","#5E4FA2"]},"legend":{"title":null}}}},
 {"data":{"name":"vl"},"mark":{"type":"rule","color":"#000000","strokeWidth":1.3},"encoding":{"x":{"field":"t","type":"temporal","title":null,"scale":{"domain":[{"year":2023,"month":11,"date":26,"hours":20,"minutes":53},{"year":2023,"month":11,"date":29,"hours":16,"minutes":52}],"nice":false}},"y":{"datum":-5.5,"type":"quantitative","scale":{"domain":[-5.5,120],"nice":false,"zero":false}},"y2":{"datum":104.7}}},
 {"data":{"name":"dn"},"mark":{"type":"text","fontSize":13,"color":"#000000"},"encoding":{"x":{"field":"t","type":"temporal","title":null,"scale":{"domain":[{"year":2023,"month":11,"date":26,"hours":20,"minutes":53},{"year":2023,"month":11,"date":29,"hours":16,"minutes":52}],"nice":false}},"y":{"datum":0,"type":"quantitative","scale":{"domain":[-5.5,120],"nice":false,"zero":false}},"text":{"field":"lab"}}}
]},
{"width":232,"height":320,"data":{"values":[{"p":"GU2"}]},"layer":[
 {"data":{"name":"wx"},"transform":[{"lookup":"s","from":{"data":{"name":"names"},"key":"s","fields":["name"]}}],"mark":{"type":"line","strokeWidth":1.4},"encoding":{"x":{"field":"t","type":"temporal","scale":{"domain":[{"year":2023,"month":11,"date":26,"hours":20,"minutes":53},{"year":2023,"month":11,"date":29,"hours":16,"minutes":52}],"nice":false},"axis":{"values":[{"year":2023,"month":11,"date":27},{"year":2023,"month":11,"date":27,"hours":12},{"year":2023,"month":11,"date":28},{"year":2023,"month":11,"date":28,"hours":12},{"year":2023,"month":11,"date":29},{"year":2023,"month":11,"date":29,"hours":12}],"labels":false,"ticks":false,"domain":false,"title":null,"grid":true,"gridColor":"#EBEBEB","gridWidth":{"condition":{"test":"hours(datum.value)===0","value":1.3},"value":0.65}}},"y":{"field":"y","type":"quantitative","scale":{"domain":[-5.5,120],"nice":false,"zero":false},"axis":{"values":[0,12.5,25,37.5,50,62.5,75,87.5,100],"labels":false,"ticks":false,"domain":false,"title":null,"grid":true,"gridColor":"#EBEBEB","gridWidth":{"condition":{"test":"datum.value%25===0","value":1.3},"value":0.65}}},"color":{"field":"name","type":"nominal","scale":{"domain":["Relative Humidity(%)","Air Temperature (°C)","Mainboard Temperature (°C)","Stem Temperature (°C)","Soil Temperature (°C)","VPD (kPa X 10)"],"range":["#9E0142","#D53E4F","#F46D43","#66C2A5","#3288BD","#5E4FA2"]},"legend":{"title":null}}}},
 {"mark":{"type":"rect","fill":"#D9D9D9","stroke":"#333333","strokeWidth":1.4},"encoding":{"y":{"datum":104.7,"type":"quantitative","scale":{"domain":[-5.5,120],"nice":false,"zero":false}},"y2":{"datum":120}}},
 {"mark":{"type":"text","fontSize":21,"color":"#1A1A1A"},"encoding":{"y":{"datum":112.35,"type":"quantitative","scale":{"domain":[-5.5,120],"nice":false,"zero":false}},"text":{"field":"p"}}},
 {"data":{"name":"tB"},"transform":[{"lookup":"s","from":{"data":{"name":"names"},"key":"s","fields":["name"]}}],"mark":{"type":"line","strokeWidth":1.4},"encoding":{"x":{"field":"t","type":"temporal","title":null,"scale":{"domain":[{"year":2023,"month":11,"date":26,"hours":20,"minutes":53},{"year":2023,"month":11,"date":29,"hours":16,"minutes":52}],"nice":false}},"y":{"field":"y","type":"quantitative","title":null,"scale":{"domain":[-5.5,120],"nice":false,"zero":false}},"color":{"field":"name","type":"nominal","scale":{"domain":["Relative Humidity(%)","Air Temperature (°C)","Mainboard Temperature (°C)","Stem Temperature (°C)","Soil Temperature (°C)","VPD (kPa X 10)"],"range":["#9E0142","#D53E4F","#F46D43","#66C2A5","#3288BD","#5E4FA2"]},"legend":{"title":null}}}},
 {"data":{"name":"vl"},"mark":{"type":"rule","color":"#000000","strokeWidth":1.3},"encoding":{"x":{"field":"t","type":"temporal","title":null,"scale":{"domain":[{"year":2023,"month":11,"date":26,"hours":20,"minutes":53},{"year":2023,"month":11,"date":29,"hours":16,"minutes":52}],"nice":false}},"y":{"datum":-5.5,"type":"quantitative","scale":{"domain":[-5.5,120],"nice":false,"zero":false}},"y2":{"datum":104.7}}}
]},
{"width":232,"height":320,"data":{"values":[{"p":"GU3"}]},"layer":[
 {"data":{"name":"wx"},"transform":[{"lookup":"s","from":{"data":{"name":"names"},"key":"s","fields":["name"]}}],"mark":{"type":"line","strokeWidth":1.4},"encoding":{"x":{"field":"t","type":"temporal","scale":{"domain":[{"year":2023,"month":11,"date":26,"hours":20,"minutes":53},{"year":2023,"month":11,"date":29,"hours":16,"minutes":52}],"nice":false},"axis":{"values":[{"year":2023,"month":11,"date":27},{"year":2023,"month":11,"date":27,"hours":12},{"year":2023,"month":11,"date":28},{"year":2023,"month":11,"date":28,"hours":12},{"year":2023,"month":11,"date":29},{"year":2023,"month":11,"date":29,"hours":12}],"labels":false,"ticks":false,"domain":false,"title":null,"grid":true,"gridColor":"#EBEBEB","gridWidth":{"condition":{"test":"hours(datum.value)===0","value":1.3},"value":0.65}}},"y":{"field":"y","type":"quantitative","scale":{"domain":[-5.5,120],"nice":false,"zero":false},"axis":{"values":[0,12.5,25,37.5,50,62.5,75,87.5,100],"labels":false,"ticks":false,"domain":false,"title":null,"grid":true,"gridColor":"#EBEBEB","gridWidth":{"condition":{"test":"datum.value%25===0","value":1.3},"value":0.65}}},"color":{"field":"name","type":"nominal","scale":{"domain":["Relative Humidity(%)","Air Temperature (°C)","Mainboard Temperature (°C)","Stem Temperature (°C)","Soil Temperature (°C)","VPD (kPa X 10)"],"range":["#9E0142","#D53E4F","#F46D43","#66C2A5","#3288BD","#5E4FA2"]},"legend":{"title":null}}}},
 {"mark":{"type":"rect","fill":"#D9D9D9","stroke":"#333333","strokeWidth":1.4},"encoding":{"y":{"datum":104.7,"type":"quantitative","scale":{"domain":[-5.5,120],"nice":false,"zero":false}},"y2":{"datum":120}}},
 {"mark":{"type":"text","fontSize":21,"color":"#1A1A1A"},"encoding":{"y":{"datum":112.35,"type":"quantitative","scale":{"domain":[-5.5,120],"nice":false,"zero":false}},"text":{"field":"p"}}},
 {"data":{"name":"tB"},"transform":[{"lookup":"s","from":{"data":{"name":"names"},"key":"s","fields":["name"]}}],"mark":{"type":"line","strokeWidth":1.4},"encoding":{"x":{"field":"t","type":"temporal","title":null,"scale":{"domain":[{"year":2023,"month":11,"date":26,"hours":20,"minutes":53},{"year":2023,"month":11,"date":29,"hours":16,"minutes":52}],"nice":false}},"y":{"field":"y","type":"quantitative","title":null,"scale":{"domain":[-5.5,120],"nice":false,"zero":false}},"color":{"field":"name","type":"nominal","scale":{"domain":["Relative Humidity(%)","Air Temperature (°C)","Mainboard Temperature (°C)","Stem Temperature (°C)","Soil Temperature (°C)","VPD (kPa X 10)"],"range":["#9E0142","#D53E4F","#F46D43","#66C2A5","#3288BD","#5E4FA2"]},"legend":{"title":null}}}},
 {"data":{"name":"vl"},"mark":{"type":"rule","color":"#000000","strokeWidth":1.3},"encoding":{"x":{"field":"t","type":"temporal","title":null,"scale":{"domain":[{"year":2023,"month":11,"date":26,"hours":20,"minutes":53},{"year":2023,"month":11,"date":29,"hours":16,"minutes":52}],"nice":false}},"y":{"datum":-5.5,"type":"quantitative","scale":{"domain":[-5.5,120],"nice":false,"zero":false}},"y2":{"datum":104.7}}}
]},
{"width":232,"height":320,"data":{"values":[{"p":"GU4"}]},"layer":[
 {"data":{"name":"wx"},"transform":[{"lookup":"s","from":{"data":{"name":"names"},"key":"s","fields":["name"]}}],"mark":{"type":"line","strokeWidth":1.4},"encoding":{"x":{"field":"t","type":"temporal","scale":{"domain":[{"year":2023,"month":11,"date":26,"hours":20,"minutes":53},{"year":2023,"month":11,"date":29,"hours":16,"minutes":52}],"nice":false},"axis":{"values":[{"year":2023,"month":11,"date":27},{"year":2023,"month":11,"date":27,"hours":12},{"year":2023,"month":11,"date":28},{"year":2023,"month":11,"date":28,"hours":12},{"year":2023,"month":11,"date":29},{"year":2023,"month":11,"date":29,"hours":12}],"labels":false,"ticks":false,"domain":false,"title":null,"grid":true,"gridColor":"#EBEBEB","gridWidth":{"condition":{"test":"hours(datum.value)===0","value":1.3},"value":0.65}}},"y":{"field":"y","type":"quantitative","scale":{"domain":[-5.5,120],"nice":false,"zero":false},"axis":{"values":[0,12.5,25,37.5,50,62.5,75,87.5,100],"labels":false,"ticks":false,"domain":false,"title":null,"grid":true,"gridColor":"#EBEBEB","gridWidth":{"condition":{"test":"datum.value%25===0","value":1.3},"value":0.65}}},"color":{"field":"name","type":"nominal","scale":{"domain":["Relative Humidity(%)","Air Temperature (°C)","Mainboard Temperature (°C)","Stem Temperature (°C)","Soil Temperature (°C)","VPD (kPa X 10)"],"range":["#9E0142","#D53E4F","#F46D43","#66C2A5","#3288BD","#5E4FA2"]},"legend":{"title":null}}}},
 {"mark":{"type":"rect","fill":"#D9D9D9","stroke":"#333333","strokeWidth":1.4},"encoding":{"y":{"datum":104.7,"type":"quantitative","scale":{"domain":[-5.5,120],"nice":false,"zero":false}},"y2":{"datum":120}}},
 {"mark":{"type":"text","fontSize":21,"color":"#1A1A1A"},"encoding":{"y":{"datum":112.35,"type":"quantitative","scale":{"domain":[-5.5,120],"nice":false,"zero":false}},"text":{"field":"p"}}},
 {"data":{"name":"tB"},"transform":[{"lookup":"s","from":{"data":{"name":"names"},"key":"s","fields":["name"]}}],"mark":{"type":"line","strokeWidth":1.4},"encoding":{"x":{"field":"t","type":"temporal","title":null,"scale":{"domain":[{"year":2023,"month":11,"date":26,"hours":20,"minutes":53},{"year":2023,"month":11,"date":29,"hours":16,"minutes":52}],"nice":false}},"y":{"field":"y","type":"quantitative","title":null,"scale":{"domain":[-5.5,120],"nice":false,"zero":false}},"color":{"field":"name","type":"nominal","scale":{"domain":["Relative Humidity(%)","Air Temperature (°C)","Mainboard Temperature (°C)","Stem Temperature (°C)","Soil Temperature (°C)","VPD (kPa X 10)"],"range":["#9E0142","#D53E4F","#F46D43","#66C2A5","#3288BD","#5E4FA2"]},"legend":{"title":null}}}},
 {"data":{"name":"vl"},"mark":{"type":"rule","color":"#000000","strokeWidth":1.3},"encoding":{"x":{"field":"t","type":"temporal","title":null,"scale":{"domain":[{"year":2023,"month":11,"date":26,"hours":20,"minutes":53},{"year":2023,"month":11,"date":29,"hours":16,"minutes":52}],"nice":false}},"y":{"datum":-5.5,"type":"quantitative","scale":{"domain":[-5.5,120],"nice":false,"zero":false}},"y2":{"datum":104.7}}}
]},
{"width":232,"height":320,"data":{"values":[{"p":"GU5"}]},"layer":[
 {"data":{"name":"wx"},"transform":[{"lookup":"s","from":{"data":{"name":"names"},"key":"s","fields":["name"]}}],"mark":{"type":"line","strokeWidth":1.4},"encoding":{"x":{"field":"t","type":"temporal","scale":{"domain":[{"year":2023,"month":11,"date":26,"hours":20,"minutes":53},{"year":2023,"month":11,"date":29,"hours":16,"minutes":52}],"nice":false},"axis":{"values":[{"year":2023,"month":11,"date":27},{"year":2023,"month":11,"date":27,"hours":12},{"year":2023,"month":11,"date":28},{"year":2023,"month":11,"date":28,"hours":12},{"year":2023,"month":11,"date":29},{"year":2023,"month":11,"date":29,"hours":12}],"labels":false,"ticks":false,"domain":false,"title":null,"grid":true,"gridColor":"#EBEBEB","gridWidth":{"condition":{"test":"hours(datum.value)===0","value":1.3},"value":0.65}}},"y":{"field":"y","type":"quantitative","scale":{"domain":[-5.5,120],"nice":false,"zero":false},"axis":{"values":[0,12.5,25,37.5,50,62.5,75,87.5,100],"labels":false,"ticks":false,"domain":false,"title":null,"grid":true,"gridColor":"#EBEBEB","gridWidth":{"condition":{"test":"datum.value%25===0","value":1.3},"value":0.65}}},"color":{"field":"name","type":"nominal","scale":{"domain":["Relative Humidity(%)","Air Temperature (°C)","Mainboard Temperature (°C)","Stem Temperature (°C)","Soil Temperature (°C)","VPD (kPa X 10)"],"range":["#9E0142","#D53E4F","#F46D43","#66C2A5","#3288BD","#5E4FA2"]},"legend":{"title":null}}}},
 {"mark":{"type":"rect","fill":"#D9D9D9","stroke":"#333333","strokeWidth":1.4},"encoding":{"y":{"datum":104.7,"type":"quantitative","scale":{"domain":[-5.5,120],"nice":false,"zero":false}},"y2":{"datum":120}}},
 {"mark":{"type":"text","fontSize":21,"color":"#1A1A1A"},"encoding":{"y":{"datum":112.35,"type":"quantitative","scale":{"domain":[-5.5,120],"nice":false,"zero":false}},"text":{"field":"p"}}},
 {"data":{"name":"tB"},"transform":[{"lookup":"s","from":{"data":{"name":"names"},"key":"s","fields":["name"]}}],"mark":{"type":"line","strokeWidth":1.4},"encoding":{"x":{"field":"t","type":"temporal","title":null,"scale":{"domain":[{"year":2023,"month":11,"date":26,"hours":20,"minutes":53},{"year":2023,"month":11,"date":29,"hours":16,"minutes":52}],"nice":false}},"y":{"field":"y","type":"quantitative","title":null,"scale":{"domain":[-5.5,120],"nice":false,"zero":false}},"color":{"field":"name","type":"nominal","scale":{"domain":["Relative Humidity(%)","Air Temperature (°C)","Mainboard Temperature (°C)","Stem Temperature (°C)","Soil Temperature (°C)","VPD (kPa X 10)"],"range":["#9E0142","#D53E4F","#F46D43","#66C2A5","#3288BD","#5E4FA2"]},"legend":{"title":null}}}},
 {"data":{"name":"vl"},"mark":{"type":"rule","color":"#000000","strokeWidth":1.3},"encoding":{"x":{"field":"t","type":"temporal","title":null,"scale":{"domain":[{"year":2023,"month":11,"date":26,"hours":20,"minutes":53},{"year":2023,"month":11,"date":29,"hours":16,"minutes":52}],"nice":false}},"y":{"datum":-5.5,"type":"quantitative","scale":{"domain":[-5.5,120],"nice":false,"zero":false}},"y2":{"datum":104.7}}}
]}
], "spacing": 10.6, "bounds": "flush"},
{"hconcat": [
{"width":232,"height":320,"data":{"values":[{"p":"GU6"}]},"layer":[
 {"data":{"name":"wx"},"transform":[{"lookup":"s","from":{"data":{"name":"names"},"key":"s","fields":["name"]}}],"mark":{"type":"line","strokeWidth":1.4},"encoding":{"x":{"field":"t","type":"temporal","scale":{"domain":[{"year":2023,"month":11,"date":26,"hours":20,"minutes":53},{"year":2023,"month":11,"date":29,"hours":16,"minutes":52}],"nice":false},"axis":{"values":[{"year":2023,"month":11,"date":27},{"year":2023,"month":11,"date":27,"hours":12},{"year":2023,"month":11,"date":28},{"year":2023,"month":11,"date":28,"hours":12},{"year":2023,"month":11,"date":29},{"year":2023,"month":11,"date":29,"hours":12}],"labelExpr":"hours(datum.value)===0?timeFormat(datum.value,'%b %d'):''","labelFontSize":16,"labelColor":"#4D4D4D","labelPadding":3,"labelOverlap":false,"labelFlush":false,"tickColor":"#333333","tickSize":4.5,"tickWidth":1.2,"tickOpacity":{"condition":{"test":"hours(datum.value)===0","value":1},"value":0},"domain":false,"title":null,"grid":true,"gridColor":"#EBEBEB","gridWidth":{"condition":{"test":"hours(datum.value)===0","value":1.3},"value":0.65}}},"y":{"field":"y","type":"quantitative","scale":{"domain":[-5.5,120],"nice":false,"zero":false},"axis":{"values":[0,12.5,25,37.5,50,62.5,75,87.5,100],"labelExpr":"datum.value%25===0?datum.label:''","labelFontSize":16,"labelColor":"#4D4D4D","labelPadding":3,"labelOverlap":false,"tickColor":"#333333","tickSize":4.5,"tickWidth":1.2,"tickOpacity":{"condition":{"test":"datum.value%25===0","value":1},"value":0},"domain":false,"title":null,"grid":true,"gridColor":"#EBEBEB","gridWidth":{"condition":{"test":"datum.value%25===0","value":1.3},"value":0.65}}},"color":{"field":"name","type":"nominal","scale":{"domain":["Relative Humidity(%)","Air Temperature (°C)","Mainboard Temperature (°C)","Stem Temperature (°C)","Soil Temperature (°C)","VPD (kPa X 10)"],"range":["#9E0142","#D53E4F","#F46D43","#66C2A5","#3288BD","#5E4FA2"]},"legend":{"title":null}}}},
 {"mark":{"type":"rect","fill":"#D9D9D9","stroke":"#333333","strokeWidth":1.4},"encoding":{"y":{"datum":104.7,"type":"quantitative","scale":{"domain":[-5.5,120],"nice":false,"zero":false}},"y2":{"datum":120}}},
 {"mark":{"type":"text","fontSize":21,"color":"#1A1A1A"},"encoding":{"y":{"datum":112.35,"type":"quantitative","scale":{"domain":[-5.5,120],"nice":false,"zero":false}},"text":{"field":"p"}}},
 {"data":{"name":"tC"},"transform":[{"lookup":"s","from":{"data":{"name":"names"},"key":"s","fields":["name"]}}],"mark":{"type":"line","strokeWidth":1.4},"encoding":{"x":{"field":"t","type":"temporal","title":null,"scale":{"domain":[{"year":2023,"month":11,"date":26,"hours":20,"minutes":53},{"year":2023,"month":11,"date":29,"hours":16,"minutes":52}],"nice":false}},"y":{"field":"y","type":"quantitative","title":null,"scale":{"domain":[-5.5,120],"nice":false,"zero":false}},"color":{"field":"name","type":"nominal","scale":{"domain":["Relative Humidity(%)","Air Temperature (°C)","Mainboard Temperature (°C)","Stem Temperature (°C)","Soil Temperature (°C)","VPD (kPa X 10)"],"range":["#9E0142","#D53E4F","#F46D43","#66C2A5","#3288BD","#5E4FA2"]},"legend":{"title":null}}}},
 {"data":{"name":"vl"},"mark":{"type":"rule","color":"#000000","strokeWidth":1.3},"encoding":{"x":{"field":"t","type":"temporal","title":null,"scale":{"domain":[{"year":2023,"month":11,"date":26,"hours":20,"minutes":53},{"year":2023,"month":11,"date":29,"hours":16,"minutes":52}],"nice":false}},"y":{"datum":-5.5,"type":"quantitative","scale":{"domain":[-5.5,120],"nice":false,"zero":false}},"y2":{"datum":104.7}}}
]},
{"width":232,"height":320,"data":{"values":[{"p":"GU7"}]},"layer":[
 {"data":{"name":"wx"},"transform":[{"lookup":"s","from":{"data":{"name":"names"},"key":"s","fields":["name"]}}],"mark":{"type":"line","strokeWidth":1.4},"encoding":{"x":{"field":"t","type":"temporal","scale":{"domain":[{"year":2023,"month":11,"date":26,"hours":20,"minutes":53},{"year":2023,"month":11,"date":29,"hours":16,"minutes":52}],"nice":false},"axis":{"values":[{"year":2023,"month":11,"date":27},{"year":2023,"month":11,"date":27,"hours":12},{"year":2023,"month":11,"date":28},{"year":2023,"month":11,"date":28,"hours":12},{"year":2023,"month":11,"date":29},{"year":2023,"month":11,"date":29,"hours":12}],"labelExpr":"hours(datum.value)===0?timeFormat(datum.value,'%b %d'):''","labelFontSize":16,"labelColor":"#4D4D4D","labelPadding":3,"labelOverlap":false,"labelFlush":false,"tickColor":"#333333","tickSize":4.5,"tickWidth":1.2,"tickOpacity":{"condition":{"test":"hours(datum.value)===0","value":1},"value":0},"domain":false,"title":null,"grid":true,"gridColor":"#EBEBEB","gridWidth":{"condition":{"test":"hours(datum.value)===0","value":1.3},"value":0.65}}},"y":{"field":"y","type":"quantitative","scale":{"domain":[-5.5,120],"nice":false,"zero":false},"axis":{"values":[0,12.5,25,37.5,50,62.5,75,87.5,100],"labels":false,"ticks":false,"domain":false,"title":null,"grid":true,"gridColor":"#EBEBEB","gridWidth":{"condition":{"test":"datum.value%25===0","value":1.3},"value":0.65}}},"color":{"field":"name","type":"nominal","scale":{"domain":["Relative Humidity(%)","Air Temperature (°C)","Mainboard Temperature (°C)","Stem Temperature (°C)","Soil Temperature (°C)","VPD (kPa X 10)"],"range":["#9E0142","#D53E4F","#F46D43","#66C2A5","#3288BD","#5E4FA2"]},"legend":{"title":null}}}},
 {"mark":{"type":"rect","fill":"#D9D9D9","stroke":"#333333","strokeWidth":1.4},"encoding":{"y":{"datum":104.7,"type":"quantitative","scale":{"domain":[-5.5,120],"nice":false,"zero":false}},"y2":{"datum":120}}},
 {"mark":{"type":"text","fontSize":21,"color":"#1A1A1A"},"encoding":{"y":{"datum":112.35,"type":"quantitative","scale":{"domain":[-5.5,120],"nice":false,"zero":false}},"text":{"field":"p"}}},
 {"data":{"name":"tC"},"transform":[{"lookup":"s","from":{"data":{"name":"names"},"key":"s","fields":["name"]}}],"mark":{"type":"line","strokeWidth":1.4},"encoding":{"x":{"field":"t","type":"temporal","title":null,"scale":{"domain":[{"year":2023,"month":11,"date":26,"hours":20,"minutes":53},{"year":2023,"month":11,"date":29,"hours":16,"minutes":52}],"nice":false}},"y":{"field":"y","type":"quantitative","title":null,"scale":{"domain":[-5.5,120],"nice":false,"zero":false}},"color":{"field":"name","type":"nominal","scale":{"domain":["Relative Humidity(%)","Air Temperature (°C)","Mainboard Temperature (°C)","Stem Temperature (°C)","Soil Temperature (°C)","VPD (kPa X 10)"],"range":["#9E0142","#D53E4F","#F46D43","#66C2A5","#3288BD","#5E4FA2"]},"legend":{"title":null}}}},
 {"data":{"name":"vl"},"mark":{"type":"rule","color":"#000000","strokeWidth":1.3},"encoding":{"x":{"field":"t","type":"temporal","title":null,"scale":{"domain":[{"year":2023,"month":11,"date":26,"hours":20,"minutes":53},{"year":2023,"month":11,"date":29,"hours":16,"minutes":52}],"nice":false}},"y":{"datum":-5.5,"type":"quantitative","scale":{"domain":[-5.5,120],"nice":false,"zero":false}},"y2":{"datum":104.7}}}
]},
{"width":232,"height":320,"data":{"values":[{"p":"GU8"}]},"layer":[
 {"data":{"name":"wx"},"transform":[{"lookup":"s","from":{"data":{"name":"names"},"key":"s","fields":["name"]}}],"mark":{"type":"line","strokeWidth":1.4},"encoding":{"x":{"field":"t","type":"temporal","title":"Date","scale":{"domain":[{"year":2023,"month":11,"date":26,"hours":20,"minutes":53},{"year":2023,"month":11,"date":29,"hours":16,"minutes":52}],"nice":false},"axis":{"values":[{"year":2023,"month":11,"date":27},{"year":2023,"month":11,"date":27,"hours":12},{"year":2023,"month":11,"date":28},{"year":2023,"month":11,"date":28,"hours":12},{"year":2023,"month":11,"date":29},{"year":2023,"month":11,"date":29,"hours":12}],"labelExpr":"hours(datum.value)===0?timeFormat(datum.value,'%b %d'):''","labelFontSize":16,"labelColor":"#4D4D4D","labelPadding":3,"labelOverlap":false,"labelFlush":false,"tickColor":"#333333","tickSize":4.5,"tickWidth":1.2,"tickOpacity":{"condition":{"test":"hours(datum.value)===0","value":1},"value":0},"domain":false,"title":"Date","titleFontSize":22,"titleFontWeight":"normal","titleColor":"#000000","titlePadding":6,"grid":true,"gridColor":"#EBEBEB","gridWidth":{"condition":{"test":"hours(datum.value)===0","value":1.3},"value":0.65}}},"y":{"field":"y","type":"quantitative","scale":{"domain":[-5.5,120],"nice":false,"zero":false},"axis":{"values":[0,12.5,25,37.5,50,62.5,75,87.5,100],"labels":false,"ticks":false,"domain":false,"title":null,"grid":true,"gridColor":"#EBEBEB","gridWidth":{"condition":{"test":"datum.value%25===0","value":1.3},"value":0.65}}},"color":{"field":"name","type":"nominal","scale":{"domain":["Relative Humidity(%)","Air Temperature (°C)","Mainboard Temperature (°C)","Stem Temperature (°C)","Soil Temperature (°C)","VPD (kPa X 10)"],"range":["#9E0142","#D53E4F","#F46D43","#66C2A5","#3288BD","#5E4FA2"]},"legend":{"title":null}}}},
 {"mark":{"type":"rect","fill":"#D9D9D9","stroke":"#333333","strokeWidth":1.4},"encoding":{"y":{"datum":104.7,"type":"quantitative","scale":{"domain":[-5.5,120],"nice":false,"zero":false}},"y2":{"datum":120}}},
 {"mark":{"type":"text","fontSize":21,"color":"#1A1A1A"},"encoding":{"y":{"datum":112.35,"type":"quantitative","scale":{"domain":[-5.5,120],"nice":false,"zero":false}},"text":{"field":"p"}}},
 {"data":{"name":"tC"},"transform":[{"lookup":"s","from":{"data":{"name":"names"},"key":"s","fields":["name"]}}],"mark":{"type":"line","strokeWidth":1.4},"encoding":{"x":{"field":"t","type":"temporal","title":"Date","scale":{"domain":[{"year":2023,"month":11,"date":26,"hours":20,"minutes":53},{"year":2023,"month":11,"date":29,"hours":16,"minutes":52}],"nice":false}},"y":{"field":"y","type":"quantitative","title":null,"scale":{"domain":[-5.5,120],"nice":false,"zero":false}},"color":{"field":"name","type":"nominal","scale":{"domain":["Relative Humidity(%)","Air Temperature (°C)","Mainboard Temperature (°C)","Stem Temperature (°C)","Soil Temperature (°C)","VPD (kPa X 10)"],"range":["#9E0142","#D53E4F","#F46D43","#66C2A5","#3288BD","#5E4FA2"]},"legend":{"title":null}}}},
 {"data":{"name":"vl"},"mark":{"type":"rule","color":"#000000","strokeWidth":1.3},"encoding":{"x":{"field":"t","type":"temporal","title":"Date","scale":{"domain":[{"year":2023,"month":11,"date":26,"hours":20,"minutes":53},{"year":2023,"month":11,"date":29,"hours":16,"minutes":52}],"nice":false}},"y":{"datum":-5.5,"type":"quantitative","scale":{"domain":[-5.5,120],"nice":false,"zero":false}},"y2":{"datum":104.7}}}
]},
{"width":232,"height":320,"data":{"values":[{"p":"GU9"}]},"layer":[
 {"data":{"name":"wx"},"transform":[{"lookup":"s","from":{"data":{"name":"names"},"key":"s","fields":["name"]}}],"mark":{"type":"line","strokeWidth":1.4},"encoding":{"x":{"field":"t","type":"temporal","scale":{"domain":[{"year":2023,"month":11,"date":26,"hours":20,"minutes":53},{"year":2023,"month":11,"date":29,"hours":16,"minutes":52}],"nice":false},"axis":{"values":[{"year":2023,"month":11,"date":27},{"year":2023,"month":11,"date":27,"hours":12},{"year":2023,"month":11,"date":28},{"year":2023,"month":11,"date":28,"hours":12},{"year":2023,"month":11,"date":29},{"year":2023,"month":11,"date":29,"hours":12}],"labelExpr":"hours(datum.value)===0?timeFormat(datum.value,'%b %d'):''","labelFontSize":16,"labelColor":"#4D4D4D","labelPadding":3,"labelOverlap":false,"labelFlush":false,"tickColor":"#333333","tickSize":4.5,"tickWidth":1.2,"tickOpacity":{"condition":{"test":"hours(datum.value)===0","value":1},"value":0},"domain":false,"title":null,"grid":true,"gridColor":"#EBEBEB","gridWidth":{"condition":{"test":"hours(datum.value)===0","value":1.3},"value":0.65}}},"y":{"field":"y","type":"quantitative","scale":{"domain":[-5.5,120],"nice":false,"zero":false},"axis":{"values":[0,12.5,25,37.5,50,62.5,75,87.5,100],"labels":false,"ticks":false,"domain":false,"title":null,"grid":true,"gridColor":"#EBEBEB","gridWidth":{"condition":{"test":"datum.value%25===0","value":1.3},"value":0.65}}},"color":{"field":"name","type":"nominal","scale":{"domain":["Relative Humidity(%)","Air Temperature (°C)","Mainboard Temperature (°C)","Stem Temperature (°C)","Soil Temperature (°C)","VPD (kPa X 10)"],"range":["#9E0142","#D53E4F","#F46D43","#66C2A5","#3288BD","#5E4FA2"]},"legend":{"title":null}}}},
 {"mark":{"type":"rect","fill":"#D9D9D9","stroke":"#333333","strokeWidth":1.4},"encoding":{"y":{"datum":104.7,"type":"quantitative","scale":{"domain":[-5.5,120],"nice":false,"zero":false}},"y2":{"datum":120}}},
 {"mark":{"type":"text","fontSize":21,"color":"#1A1A1A"},"encoding":{"y":{"datum":112.35,"type":"quantitative","scale":{"domain":[-5.5,120],"nice":false,"zero":false}},"text":{"field":"p"}}},
 {"data":{"name":"tC"},"transform":[{"lookup":"s","from":{"data":{"name":"names"},"key":"s","fields":["name"]}}],"mark":{"type":"line","strokeWidth":1.4},"encoding":{"x":{"field":"t","type":"temporal","title":null,"scale":{"domain":[{"year":2023,"month":11,"date":26,"hours":20,"minutes":53},{"year":2023,"month":11,"date":29,"hours":16,"minutes":52}],"nice":false}},"y":{"field":"y","type":"quantitative","title":null,"scale":{"domain":[-5.5,120],"nice":false,"zero":false}},"color":{"field":"name","type":"nominal","scale":{"domain":["Relative Humidity(%)","Air Temperature (°C)","Mainboard Temperature (°C)","Stem Temperature (°C)","Soil Temperature (°C)","VPD (kPa X 10)"],"range":["#9E0142","#D53E4F","#F46D43","#66C2A5","#3288BD","#5E4FA2"]},"legend":{"title":null}}}},
 {"data":{"name":"vl"},"mark":{"type":"rule","color":"#000000","strokeWidth":1.3},"encoding":{"x":{"field":"t","type":"temporal","title":null,"scale":{"domain":[{"year":2023,"month":11,"date":26,"hours":20,"minutes":53},{"year":2023,"month":11,"date":29,"hours":16,"minutes":52}],"nice":false}},"y":{"datum":-5.5,"type":"quantitative","scale":{"domain":[-5.5,120],"nice":false,"zero":false}},"y2":{"datum":104.7}}}
]},
{"width":232,"height":320,"data":{"values":[{"p":"GU10"}]},"layer":[
 {"data":{"name":"wx"},"transform":[{"lookup":"s","from":{"data":{"name":"names"},"key":"s","fields":["name"]}}],"mark":{"type":"line","strokeWidth":1.4},"encoding":{"x":{"field":"t","type":"temporal","scale":{"domain":[{"year":2023,"month":11,"date":26,"hours":20,"minutes":53},{"year":2023,"month":11,"date":29,"hours":16,"minutes":52}],"nice":false},"axis":{"values":[{"year":2023,"month":11,"date":27},{"year":2023,"month":11,"date":27,"hours":12},{"year":2023,"month":11,"date":28},{"year":2023,"month":11,"date":28,"hours":12},{"year":2023,"month":11,"date":29},{"year":2023,"month":11,"date":29,"hours":12}],"labelExpr":"hours(datum.value)===0?timeFormat(datum.value,'%b %d'):''","labelFontSize":16,"labelColor":"#4D4D4D","labelPadding":3,"labelOverlap":false,"labelFlush":false,"tickColor":"#333333","tickSize":4.5,"tickWidth":1.2,"tickOpacity":{"condition":{"test":"hours(datum.value)===0","value":1},"value":0},"domain":false,"title":null,"grid":true,"gridColor":"#EBEBEB","gridWidth":{"condition":{"test":"hours(datum.value)===0","value":1.3},"value":0.65}}},"y":{"field":"y","type":"quantitative","scale":{"domain":[-5.5,120],"nice":false,"zero":false},"axis":{"values":[0,12.5,25,37.5,50,62.5,75,87.5,100],"labels":false,"ticks":false,"domain":false,"title":null,"grid":true,"gridColor":"#EBEBEB","gridWidth":{"condition":{"test":"datum.value%25===0","value":1.3},"value":0.65}}},"color":{"field":"name","type":"nominal","scale":{"domain":["Relative Humidity(%)","Air Temperature (°C)","Mainboard Temperature (°C)","Stem Temperature (°C)","Soil Temperature (°C)","VPD (kPa X 10)"],"range":["#9E0142","#D53E4F","#F46D43","#66C2A5","#3288BD","#5E4FA2"]},"legend":{"title":null}}}},
 {"mark":{"type":"rect","fill":"#D9D9D9","stroke":"#333333","strokeWidth":1.4},"encoding":{"y":{"datum":104.7,"type":"quantitative","scale":{"domain":[-5.5,120],"nice":false,"zero":false}},"y2":{"datum":120}}},
 {"mark":{"type":"text","fontSize":21,"color":"#1A1A1A"},"encoding":{"y":{"datum":112.35,"type":"quantitative","scale":{"domain":[-5.5,120],"nice":false,"zero":false}},"text":{"field":"p"}}},
 {"data":{"name":"tC"},"transform":[{"lookup":"s","from":{"data":{"name":"names"},"key":"s","fields":["name"]}}],"mark":{"type":"line","strokeWidth":1.4},"encoding":{"x":{"field":"t","type":"temporal","title":null,"scale":{"domain":[{"year":2023,"month":11,"date":26,"hours":20,"minutes":53},{"year":2023,"month":11,"date":29,"hours":16,"minutes":52}],"nice":false}},"y":{"field":"y","type":"quantitative","title":null,"scale":{"domain":[-5.5,120],"nice":false,"zero":false}},"color":{"field":"name","type":"nominal","scale":{"domain":["Relative Humidity(%)","Air Temperature (°C)","Mainboard Temperature (°C)","Stem Temperature (°C)","Soil Temperature (°C)","VPD (kPa X 10)"],"range":["#9E0142","#D53E4F","#F46D43","#66C2A5","#3288BD","#5E4FA2"]},"legend":{"title":null}}}},
 {"data":{"name":"vl"},"mark":{"type":"rule","color":"#000000","strokeWidth":1.3},"encoding":{"x":{"field":"t","type":"temporal","title":null,"scale":{"domain":[{"year":2023,"month":11,"date":26,"hours":20,"minutes":53},{"year":2023,"month":11,"date":29,"hours":16,"minutes":52}],"nice":false}},"y":{"datum":-5.5,"type":"quantitative","scale":{"domain":[-5.5,120],"nice":false,"zero":false}},"y2":{"datum":104.7}}}
]}
], "spacing": 10.6, "bounds": "flush"}
]
}
